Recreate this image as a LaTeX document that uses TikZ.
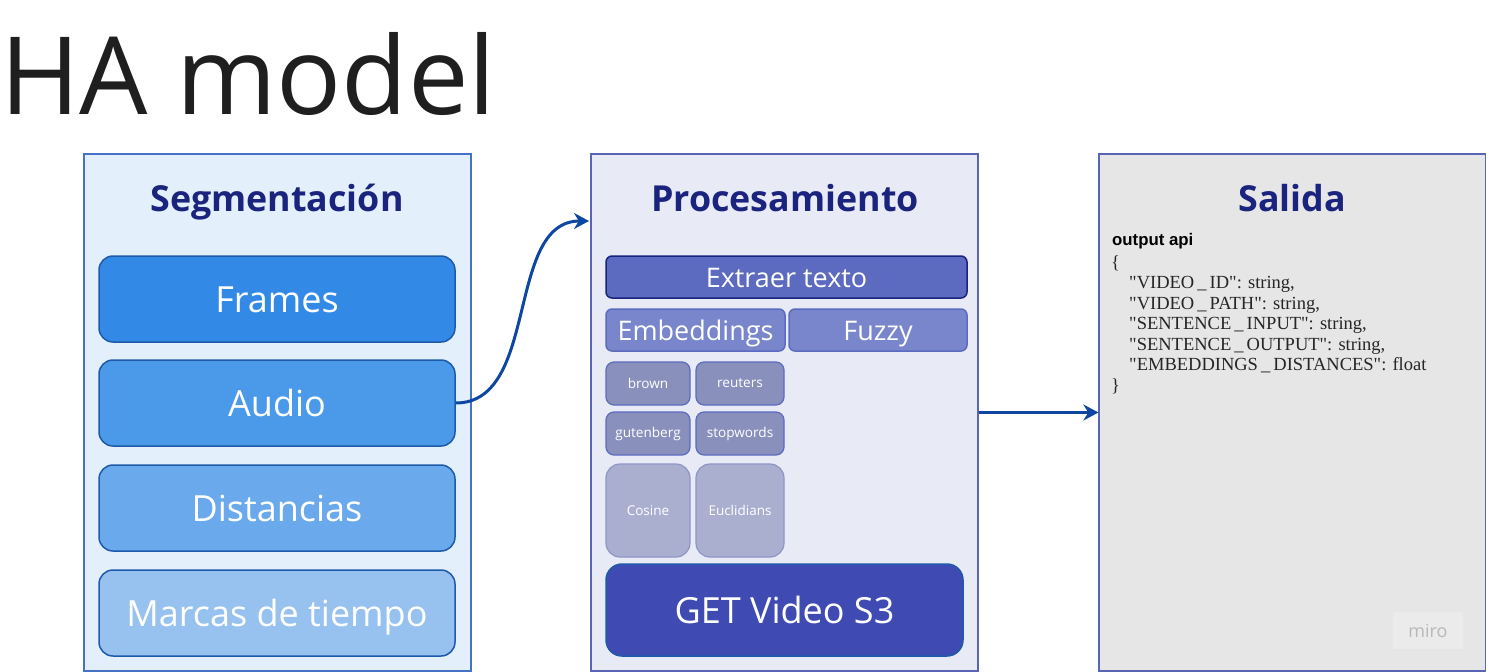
\documentclass[tikz,border=0pt]{standalone}
\usepackage{fontspec}
\setmainfont{Open Sans}
\newfontfamily\codefont{Liberation Serif}
\newfontfamily\apifont{Liberation Sans}
\usetikzlibrary{arrows.meta}

\definecolor{title ink}{HTML}{1A237E}
\definecolor{flow ink}{HTML}{0D47A1}
\definecolor{seg area}{HTML}{E3F0FC}
\definecolor{seg edge}{HTML}{4572C4}
\definecolor{proc area}{HTML}{E8EAF6}
\definecolor{proc edge}{HTML}{5A64B4}
\definecolor{out area}{HTML}{E6E6E6}
\definecolor{frames fill}{HTML}{3389E6}
\definecolor{audio fill}{HTML}{4A9AE9}
\definecolor{dist fill}{HTML}{6AA9EB}
\definecolor{marks fill}{HTML}{97C2EF}
\definecolor{box edge}{HTML}{1E5AAA}
\definecolor{extract fill}{HTML}{5C6BC0}
\definecolor{method fill}{HTML}{7986CB}
\definecolor{corpus fill}{HTML}{8990BB}
\definecolor{metric fill}{HTML}{AAAFD0}
\definecolor{metric edge}{HTML}{8E95C6}
\definecolor{get fill}{HTML}{3F4BB3}
\tikzset{
  panel/.style={draw, line width=1.2pt, minimum width=387pt, minimum height=517pt, inner sep=0pt},
  panel title/.style={anchor=base, text=title ink, font=\fontsize{35.8}{36}\selectfont\bfseries}
  }
\tikzstyle{seg box} = [draw=box edge, line width=1.5pt, rounded corners=14pt, minimum width=356pt, minimum height=86pt, text=white, text height=27.4pt, text depth=0pt, font=\fontsize{36}{36}\selectfont]
\tikzstyle{wide box} = [draw=extract fill, line width=1.5pt, rounded corners=6pt, minimum height=42pt, text=white, text height=20pt, text depth=0pt, font=\fontsize{27}{27}\selectfont]
\tikzstyle{small box} = [draw=extract fill, line width=1.2pt, rounded corners=8pt, minimum height=43pt, text=white, font=\fontsize{13.6}{14}\selectfont]
\tikzstyle{flow} = [draw=flow ink, line width=3pt, -{Stealth[length=15pt,width=16pt]}]

\begin{document}
\begin{tikzpicture}[x=1pt, y=-1pt]
    \useasboundingbox (0,0) rectangle (1486,672);

    % The heading
    \node[anchor=base west, inner sep=0pt, text=black!88, font=\fontsize{108}{108}\selectfont] (head) at (0,114) {HA model};

    % The three panels
    \node[panel, fill=seg area, draw=seg edge] (seg) at (277.5,412.5) {};
    \node[panel, fill=proc area, draw=proc edge] (proc) at (784.5,412.5) {};
    \node[panel, fill=out area, draw=proc edge] (out) at (1292.5,412.5) {};
    \foreach \pos/\name/\txt in {{(277,211)/seg title/Segmentación}, {(785,211)/proc title/Procesamiento}, {(1292,211)/out title/Salida}}
      \node[panel title] (\name) at \pos {\txt};

    % What gets cut out of the video
    \foreach \pos/\name/\col/\txt in {{(277,299)/frames/frames fill/Frames}, {(277,403)/audio/audio fill/Audio}, {(277,508)/dist/dist fill/Distancias}, {(277,613)/marks/marks fill/Marcas de tiempo}}
      \node[seg box, fill=\col] (\name) at \pos {\txt};

    % The processing steps
    \node[wide box, fill=extract fill, draw=title ink, minimum width=361pt] (extract) at (786.5,277) {Extraer texto};
    \node[wide box, fill=method fill, minimum width=179pt] (emb) at (695.5,330) {Embeddings};
    \node[wide box, fill=method fill, minimum width=178pt] (fuzzy) at (878,330) {Fuzzy};
    \foreach \pos/\name/\boxw/\txt in {{(648,383.5)/brown/84/brown}, {(740,383.5)/reuters/88/reuters}, {(648,433.5)/gutenberg/84/gutenberg}, {(740,433.5)/stopwords/88/stopwords}}
      \node[small box, fill=corpus fill, minimum width=\boxw pt] (\name) at \pos {\txt};
    \foreach \pos/\name/\boxw/\txt in {{(648,510.5)/cosine/84/Cosine}, {(740,510.5)/euclid/88/Euclidians}}
      \node[small box, fill=metric fill, draw=metric edge, rounded corners=14pt, minimum width=\boxw pt, minimum height=93pt, font=\fontsize{13.5}{14}\selectfont] (\name) at \pos {\txt};
    \node[seg box, fill=get fill, rounded corners=16pt, minimum width=357pt, minimum height=92pt] (get) at (784.5,610) {GET Video S3};

    % The output record
    \node[anchor=base west, inner sep=0pt, font=\apifont\fontsize{16.8}{17}\selectfont\bfseries] (api) at (1112,245) {output api};
    \node[anchor=north west, inner sep=0pt, align=left, text=black!85, font=\codefont\fontsize{18.5}{20.5}\selectfont] (record) at (1111,255) {\{\\
      \hspace*{18pt}"VIDEO\,\_\,ID": string,\\
      \hspace*{18pt}"VIDEO\,\_\,PATH": string,\\
      \hspace*{18pt}"SENTENCE\,\_\,INPUT": string,\\
      \hspace*{18pt}"SENTENCE\,\_\,OUTPUT": string,\\
      \hspace*{18pt}"EMBEDDINGS\,\_\,DISTANCES": float\\
      \}};
    \node[fill=black!8, text=black!28, minimum width=70pt, minimum height=37pt, font=\fontsize{18}{18}\selectfont] (miro) at (1428,630.5) {miro};

    % The connections between them
    \coordinate (proc in) at (589,221);
    \path[flow] (audio.east) .. controls (540,403) and (505,221) .. (proc in);
    \path[flow] (proc.east) -- (out.west);
\end{tikzpicture}
\end{document}
